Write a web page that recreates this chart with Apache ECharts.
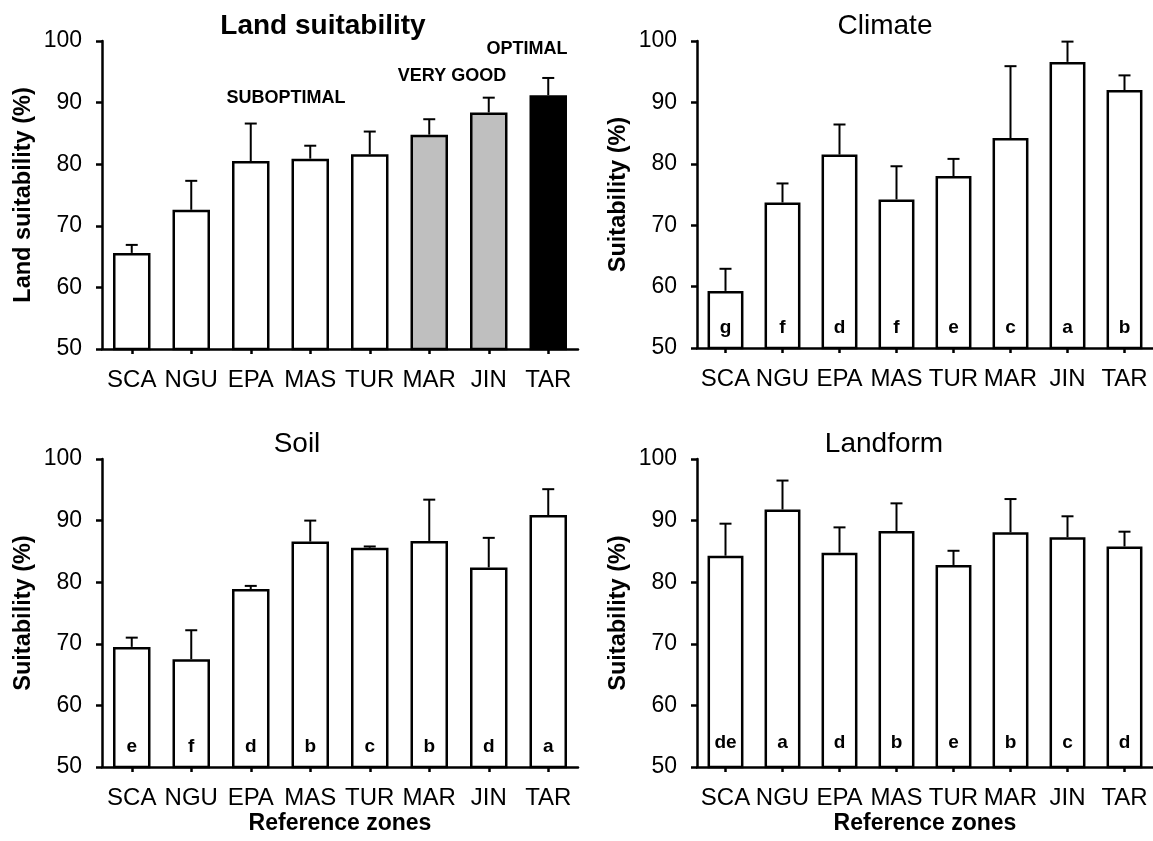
<!DOCTYPE html>
<html>
<head>
<meta charset="utf-8">
<title>Land suitability</title>
<script src="https://cdn.jsdelivr.net/npm/echarts@6/dist/echarts.min.js"></script>
<style>
html, body { margin: 0; padding: 0; background: #fff; }
#main { width: 1153px; height: 841px; }
</style>
</head>
<body>
<div id="main"></div>
<script>
// reference zones
var zones = ['SCA', 'NGU', 'EPA', 'MAS', 'TUR', 'MAR', 'JIN', 'TAR']

// mean and upper error (sd)
var landMean = [65.6, 72.6, 80.5, 80.9, 81.6, 84.8, 88.4, 91.2]
var landErr = [1.3, 4.7, 6.1, 2.1, 3.7, 2.5, 2.4, 2.8]

var climateMean = [59.3, 73.7, 81.5, 74.2, 78.0, 84.2, 96.6, 92.0]
var climateErr = [3.6, 3.1, 4.9, 5.4, 2.8, 11.7, 3.3, 2.4]
var climateLetters = ['g', 'f', 'd', 'f', 'e', 'c', 'a', 'b']

var soilMean = [69.5, 67.5, 78.9, 86.6, 85.6, 86.7, 82.4, 90.9]
var soilErr = [1.5, 4.7, 0.5, 3.4, 0.2, 6.7, 4.8, 4.2]
var soilLetters = ['e', 'f', 'd', 'b', 'c', 'b', 'd', 'a']

var landformMean = [84.3, 91.8, 84.8, 88.3, 82.8, 88.1, 87.3, 85.8]
var landformErr = [5.2, 4.7, 4.1, 4.5, 2.3, 5.4, 3.4, 2.4]
var landformLetters = ['de', 'a', 'd', 'b', 'e', 'b', 'c', 'd']

// suitability classes for the overall index
var classNames = ['SUBOPTIMAL', 'VERY GOOD', 'OPTIMAL']

var FONT = '"Liberation Sans", Arial, sans-serif'

var myChart = echarts.init(document.getElementById('main'))

var grids = [
  { left: 102, top: 41, width: 476, height: 308 },
  { left: 697, top: 41, width: 456, height: 307 },
  { left: 102, top: 459, width: 476, height: 308 },
  { left: 697, top: 459, width: 456, height: 308 }
]

function xAxisFor (idx, showName) {
  return {
    type: 'category',
    gridIndex: idx,
    data: zones,
    name: showName ? 'Reference zones' : '',
    nameLocation: 'middle',
    nameGap: 45,
    nameTextStyle: { fontFamily: FONT, fontSize: 23, fontWeight: 'bold', color: '#000' },
    axisLine: { lineStyle: { color: '#000', width: 2.5 } },
    axisTick: { show: true, alignWithLabel: true, length: 5, lineStyle: { color: '#000', width: 2.5 } },
    axisLabel: { margin: 19, interval: 0, fontFamily: FONT, fontSize: 24, color: '#000' }
  }
}

function yAxisFor (idx, name) {
  return {
    type: 'value',
    gridIndex: idx,
    min: 50,
    max: 100,
    interval: 10,
    name: name,
    nameLocation: 'middle',
    nameGap: 66,
    nameTextStyle: { fontFamily: FONT, fontSize: 23.5, fontWeight: 'bold', color: '#000' },
    splitLine: { show: false },
    axisLine: { show: true, lineStyle: { color: '#000', width: 2.5 } },
    axisTick: { show: true, length: 6, lineStyle: { color: '#000', width: 2.5 } },
    axisLabel: { margin: 20, fontFamily: FONT, fontSize: 23, color: '#000' }
  }
}

function barSeries (idx, mean, letters, fill, dist) {
  return {
    type: 'bar',
    xAxisIndex: idx,
    yAxisIndex: idx,
    data: mean,
    barWidth: '63%',
    itemStyle: {
      color: fill || '#fff',
      borderColor: '#000',
      borderWidth: 2.5
    },
    label: {
      show: !!letters,
      position: 'insideBottom',
      distance: dist || 12,
      fontFamily: FONT,
      fontSize: 19,
      fontWeight: 'bold',
      color: '#000',
      formatter: function (p) { return letters ? letters[p.dataIndex] : '' }
    },
    silent: true
  }
}

function errorSeries (idx, mean, err) {
  return {
    type: 'custom',
    xAxisIndex: idx,
    yAxisIndex: idx,
    z: 5,
    silent: true,
    data: mean.map(function (m, i) { return [i, m, err[i]] }),
    renderItem: function (params, api) {
      var p0 = api.coord([api.value(0), api.value(1)])
      var p1 = api.coord([api.value(0), api.value(1) + api.value(2)])
      var half = 6
      var st = { stroke: '#000', lineWidth: 2 }
      return {
        type: 'group',
        children: [
          { type: 'line', shape: { x1: p0[0], y1: p0[1], x2: p1[0], y2: p1[1] }, style: st },
          { type: 'line', shape: { x1: p1[0] - half, y1: p1[1], x2: p1[0] + half, y2: p1[1] }, style: st }
        ]
      }
    }
  }
}

// white for suboptimal, grey for very good, black for optimal
function landFill (p) {
  if (p.dataIndex >= 7) return '#000'
  if (p.dataIndex >= 5) return '#bfbfbf'
  return '#fff'
}

function titleText (text, x, y, bold) {
  return {
    type: 'text',
    x: x,
    y: y,
    style: {
      text: text,
      fill: '#000',
      font: (bold ? 'bold ' : '') + '28px ' + FONT,
      align: 'center',
      verticalAlign: 'middle'
    }
  }
}

function classText (text, x, y) {
  return {
    type: 'text',
    x: x,
    y: y,
    style: {
      text: text,
      fill: '#000',
      font: 'bold 18px ' + FONT,
      align: 'center',
      verticalAlign: 'middle'
    }
  }
}

var option = {
  animation: false,
  backgroundColor: '#fff',
  grid: grids,
  xAxis: [xAxisFor(0, false), xAxisFor(1, false), xAxisFor(2, true), xAxisFor(3, true)],
  yAxis: [
    yAxisFor(0, 'Land suitability (%)'),
    yAxisFor(1, 'Suitability (%)'),
    yAxisFor(2, 'Suitability (%)'),
    yAxisFor(3, 'Suitability (%)')
  ],
  series: [
    barSeries(0, landMean, null, landFill),
    errorSeries(0, landMean, landErr),
    barSeries(1, climateMean, climateLetters),
    errorSeries(1, climateMean, climateErr),
    barSeries(2, soilMean, soilLetters),
    errorSeries(2, soilMean, soilErr),
    barSeries(3, landformMean, landformLetters, null, 16),
    errorSeries(3, landformMean, landformErr)
  ],
  graphic: [
    titleText('Land suitability', 323, 26, true),
    titleText('Climate', 885, 26, false),
    titleText('Soil', 297, 444, false),
    titleText('Landform', 884, 444, false),
    classText(classNames[0], 286, 98),
    classText(classNames[1], 452, 76),
    classText(classNames[2], 527, 49)
  ]
}

myChart.setOption(option)
window.onresize = function () {
  myChart.resize()
}
</script>
</body>
</html>
